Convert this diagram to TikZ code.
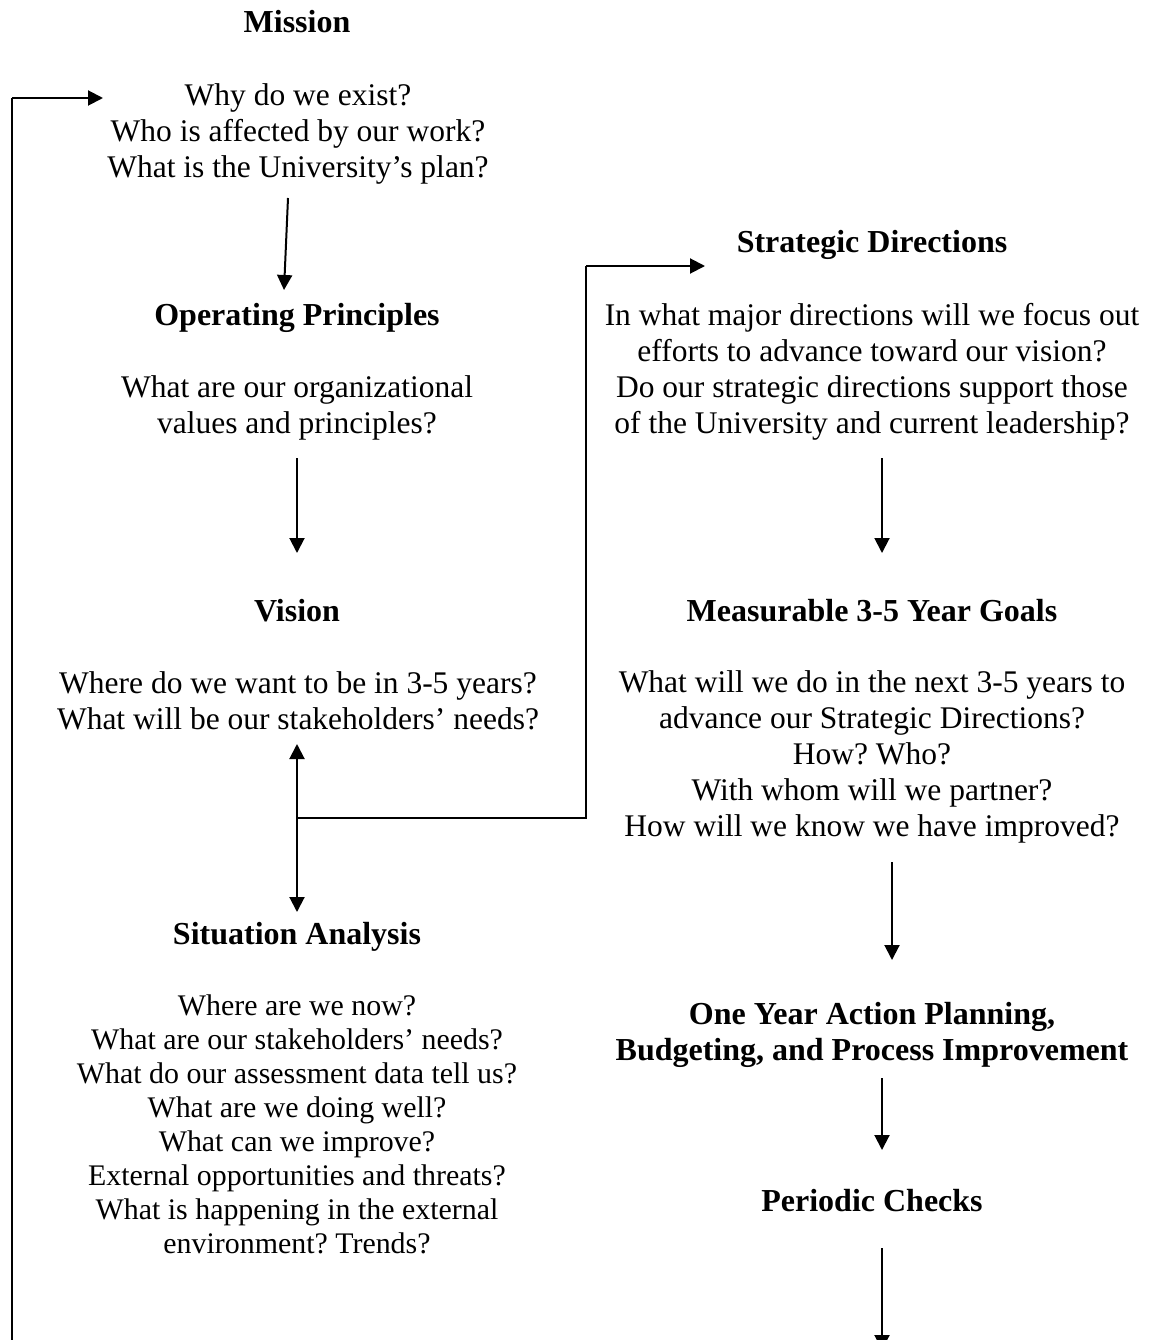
\documentclass[tikz,border=0pt]{standalone}
\usepackage{fontspec}
\setmainfont{Liberation Serif}
\usetikzlibrary{arrows.meta}
\begin{document}
\frenchspacing
\begin{tikzpicture}[x=1pt,y=-1pt,
  txt/.style={align=center,inner sep=0pt,font=\fontsize{31.5}{36}\selectfont},
  stxt/.style={align=center,inner sep=0pt,font=\fontsize{29.9}{34}\selectfont},
  head/.style={align=center,inner sep=0pt,font=\fontsize{32}{36}\selectfont\bfseries},
  conn/.style={line width=2pt,-{Triangle[length=15pt,width=15pt]}},
  line/.style={line width=2pt}]
\useasboundingbox (0,0) rectangle (1151,1340);
\clip (0,0) rectangle (1151,1340);
% left column
\node[head] (mission) at (297,22) {Mission};
\node[txt] (missionq) at (298,134) {Why do we exist?\\Who is affected by our work?\\What is the University’s plan?};
\node[head] (op) at (297,318) {Operating Principles};
\node[txt] (opq) at (297,408) {What are our organizational\\values and principles?};
\node[head] (vision) at (297,611) {Vision};
\node[txt] (visionq) at (298,701) {Where do we want to be in 3-5 years?\\What will be our stakeholders’ needs?};
\node[head] (sa) at (297,937) {Situation Analysis};
\node[stxt] (saq) at (297,1124) {Where are we now?\\What are our stakeholders’ needs?\\What do our assessment data tell us?\\What are we doing well?\\What can we improve?\\External opportunities and threats?\\What is happening in the external\\environment? Trends?};
% right column
\node[head] (sd) at (872,245) {Strategic Directions};
\node[txt] (sdq) at (872,372) {In what major directions will we focus out\\efforts to advance toward our vision?\\Do our strategic directions support those\\of the University and current leadership?};
\node[head] (mg) at (872,611) {Measurable 3-5 Year Goals};
\node[txt] (mgq) at (872,757) {What will we do in the next 3-5 years to\\advance our Strategic Directions?\\How? Who?\\With whom will we partner?\\How will we know we have improved?};
\node[head] (oy) at (872,1035) {One Year Action Planning,\\Budgeting, and Process Improvement};
\node[head] (pc) at (872,1201) {Periodic Checks};
% connector points
\coordinate (a1s) at (288,198); \coordinate (a1e) at (284,290);
\coordinate (a2s) at (297,458); \coordinate (a2e) at (297,553);
\coordinate (j) at (297,818);
\coordinate (a3u) at (297,744); \coordinate (a3d) at (297,912);
\coordinate (c1) at (586,818); \coordinate (c2) at (586,266); \coordinate (c3) at (705,266);
\coordinate (a4s) at (882,458); \coordinate (a4e) at (882,553);
\coordinate (a5s) at (892,862); \coordinate (a5e) at (892,960);
\coordinate (a6s) at (882,1078); \coordinate (a6e) at (882,1150);
\coordinate (a7s) at (882,1248); \coordinate (a7e) at (882,1350);
\coordinate (l0) at (12,1360); \coordinate (l1) at (12,98); \coordinate (l2) at (103,98);
% connectors
\draw[conn] (a1s) -- (a1e);
\draw[conn] (a2s) -- (a2e);
\draw[conn] (j) -- (a3u);
\draw[conn] (j) -- (a3d);
\draw[line] (j) -- (c1) -- (c2);
\draw[conn] (c2) -- (c3);
\draw[conn] (a4s) -- (a4e);
\draw[conn] (a5s) -- (a5e);
\draw[conn] (a6s) -- (a6e);
\draw[conn] (a7s) -- (a7e);
\draw[line] (l0) -- (l1);
\draw[conn] (l1) -- (l2);
\end{tikzpicture}
\end{document}
